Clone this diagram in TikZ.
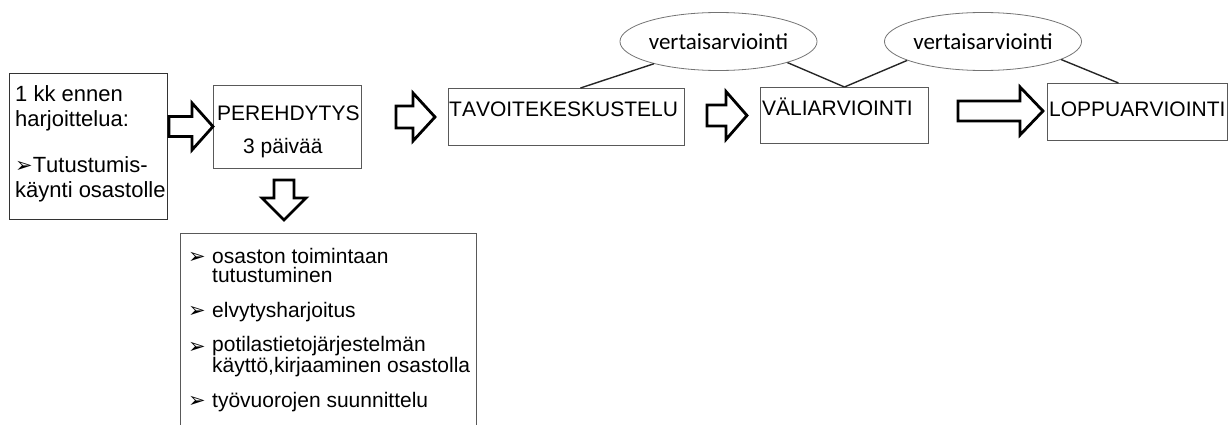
\documentclass[tikz,border=0pt]{standalone}
\usepackage{fontspec}
\setmainfont[Kerning=Off]{Liberation Sans}
\newfontfamily\calfont{Carlito}
\newfontfamily\symfont{DejaVu Sans}
\usetikzlibrary{shapes.geometric}
\newcommand{\bul}{{\symfont\fontsize{21}{21}\selectfont ➢}}
% right pointing block arrow: x0, head start, tip, mid y, half shaft, half head
\newcommand{\blockright}[6]{%
  \draw[blockarrow] (#1,#4-#5) -- (#2,#4-#5) -- (#2,#4-#6) -- (#3,#4)
    -- (#2,#4+#6) -- (#2,#4+#5) -- (#1,#4+#5) -- cycle;}
\tikzset{
  box/.style={draw=black!65, line width=0.9pt, inner sep=0pt, anchor=north west},
  ell/.style={ellipse, draw=black!55, line width=0.8pt, inner sep=0pt, font=\calfont\fontsize{23}{23}\selectfont},
  txt/.style={inner sep=0pt, anchor=base west, align=left, font=\fontsize{21}{19}\selectfont},
  link/.style={draw=black!85, line width=1.4pt},
  blockarrow/.style={draw=black, line width=2.8pt, fill=white, line join=miter}
}
\begin{document}
\begin{tikzpicture}[x=1pt, y=-1pt]
  \useasboundingbox (0,0) rectangle (1230,425);
  % boxes
  \node[box, draw=black!80, minimum width=158pt, minimum height=146pt] (prep) at (9,73) {};
  \node[box, minimum width=148pt, minimum height=83pt] (pere) at (213,85) {};
  \node[box, minimum width=236pt, minimum height=57pt] (tav) at (448,88) {};
  \node[box, minimum width=168pt, minimum height=56pt] (vali) at (760,87) {};
  \node[box, minimum width=180pt, minimum height=57pt] (loppu) at (1047,83) {};
  \node[box, minimum width=296pt, minimum height=215pt] (lista) at (180,233) {};
  % peer review
  \node[ell, minimum width=167pt, minimum height=58pt] (va1) at (718.5,41.5) {vertaisarviointi};
  \node[ell, minimum width=170pt, minimum height=58pt] (va2) at (983,41.5) {vertaisarviointi};
  \draw[link] (va1.199) -- ([xshift=14pt]tav.north);
  \draw[link] (va1.343) -- (vali.north);
  \draw[link] (va2.194) -- (vali.north);
  \draw[link] (va2.347) -- ([xshift=-19pt]loppu.north);
  % texts
  \foreach \y/\t [count=\i] in {102/1 kk ennen, 127/harjoittelua:, 172/\bul Tutustumis-, 197/käynti osastolle}
    \node[txt, font=\fontsize{22}{22}\selectfont] (preptxt\i) at (15,\y) {\t};
  \node[txt] (peretxt) at (217,121) {PEREHDYTYS};
  \node[txt] (peredays) at (243,153) {3 päivää};
  \node[txt] (tavtxt) at (449,117) {TAVOITEKESKUSTELU};
  \node[txt] (valitxt) at (762,116) {VÄLIARVIOINTI};
  \node[txt] (lopputxt) at (1049,117) {LOPPUARVIOINTI};
  % list items: bullet on the first line, text node sits on its last line
  \foreach \yb/\y/\t [count=\i] in {263/282/{osaston toimintaan\\tutustuminen}, 317/317/elvytysharjoitus,
      353/372/{potilastietojärjestelmän\\käyttö,kirjaaminen osastolla}, 407/407/työvuorojen suunnittelu}{
    \node[txt] (bul\i) at (188,\yb) {\bul};
    \node[txt] (item\i) at (212,\y) {\t};
  }
  % block arrows
  \blockright{169}{192}{213}{126.5}{10}{23.5}
  \blockright{396}{413}{435}{117}{11}{24}
  \blockright{707}{726}{747}{115.5}{10.5}{24}
  \blockright{958}{1020}{1043}{111}{10}{24}
  \draw[blockarrow] (274,180) -- (294,180) -- (294,198) -- (306,198) -- (284,220)
    -- (262,198) -- (274,198) -- cycle;
\end{tikzpicture}
\end{document}
